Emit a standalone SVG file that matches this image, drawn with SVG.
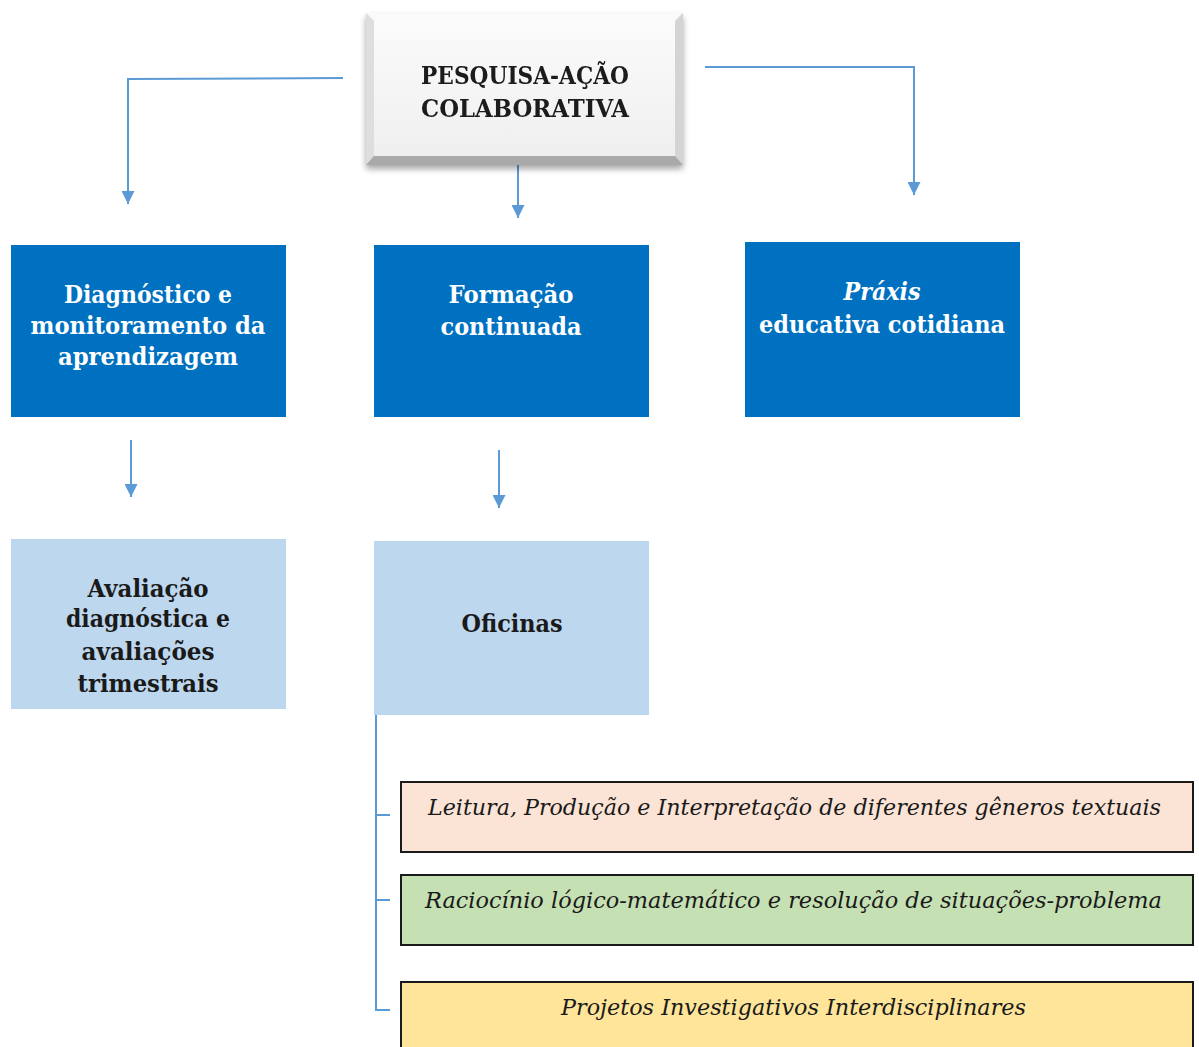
<svg xmlns="http://www.w3.org/2000/svg" width="1199" height="1047" viewBox="0 0 1199 1047">
<defs>
  <style>
    .conn{fill:none;stroke:#5B9BD5;stroke-width:2}
    .t{font-family:"DejaVu Serif","Liberation Serif",serif;font-weight:bold;font-size:24px;text-anchor:middle}
    .w{fill:#ffffff}
    .k{fill:#1a1a1a}
    .it{font-family:"DejaVu Serif","Liberation Serif",serif;font-style:italic;font-size:22px;fill:#1a1a1a}
    .dark{fill:#0070C0}
    .light{fill:#BDD7EE}
    .opt{stroke:#1a1a1a;stroke-width:2}
  </style>
  <marker id="ah" viewBox="0 0 10 10" refX="10" refY="5" markerWidth="13" markerHeight="13" markerUnits="userSpaceOnUse" orient="auto">
    <path d="M0,0 L10,5 L0,10 Z" fill="#5B9BD5"/>
  </marker>
  <linearGradient id="face" x1="0" y1="0" x2="0" y2="1">
    <stop offset="0" stop-color="#fbfbfb"/>
    <stop offset="1" stop-color="#efefef"/>
  </linearGradient>
  <filter id="sh" x="-10%" y="-10%" width="120%" height="130%">
    <feGaussianBlur in="SourceAlpha" stdDeviation="3"/>
    <feOffset dx="0" dy="4"/>
    <feComponentTransfer><feFuncA type="linear" slope="0.35"/></feComponentTransfer>
    <feMerge><feMergeNode/><feMergeNode in="SourceGraphic"/></feMerge>
  </filter>
</defs>
<rect width="1199" height="1047" fill="#ffffff"/>

<g id="connectors">
  <path class="conn" d="M343,78 L128,79 L128,204" marker-end="url(#ah)"/>
  <path class="conn" d="M705,67 L914,67 L914,195" marker-end="url(#ah)"/>
  <path class="conn" d="M518,163 L518,218" marker-end="url(#ah)"/>
  <path class="conn" d="M131,440 L131,497" marker-end="url(#ah)"/>
  <path class="conn" d="M499,450 L499,508" marker-end="url(#ah)"/>
  <path class="conn" d="M376,714 L376,1010 L390,1010 M376,815 L390,815 M376,900 L390,900"/>
</g>

<g id="node-pesquisa" filter="url(#sh)">
  <rect x="366" y="13" width="317" height="152" fill="#e6e6e6"/>
  <polygon points="366,13 683,13 675,21 374,21" fill="#fafafa"/>
  <polygon points="366,13 374,21 374,156 366,165" fill="#dedede"/>
  <polygon points="683,13 683,165 675,156 675,21" fill="#d4d4d4"/>
  <polygon points="366,165 374,156 675,156 683,165" fill="#a9a9a9"/>
  <rect x="374" y="21" width="301" height="135" fill="url(#face)"/>
  <text class="t k" x="525" y="84" textLength="208" lengthAdjust="spacingAndGlyphs">PESQUISA-AÇÃO</text>
  <text class="t k" x="525" y="117" textLength="208" lengthAdjust="spacingAndGlyphs">COLABORATIVA</text>
</g>

<g id="node-diagnostico">
  <rect class="dark" x="11" y="245" width="275" height="172"/>
  <text class="t w" x="148" y="303" textLength="168" lengthAdjust="spacingAndGlyphs">Diagnóstico e</text>
  <text class="t w" x="148" y="334" textLength="235" lengthAdjust="spacingAndGlyphs">monitoramento da</text>
  <text class="t w" x="148" y="365" textLength="180" lengthAdjust="spacingAndGlyphs">aprendizagem</text>
</g>

<g id="node-formacao">
  <rect class="dark" x="374" y="245" width="275" height="172"/>
  <text class="t w" x="511" y="303" textLength="125" lengthAdjust="spacingAndGlyphs">Formação</text>
  <text class="t w" x="511" y="335" textLength="141" lengthAdjust="spacingAndGlyphs">continuada</text>
</g>

<g id="node-praxis">
  <rect class="dark" x="745" y="242" width="275" height="175"/>
  <text class="t w" x="882" y="300" font-style="italic" textLength="77" lengthAdjust="spacingAndGlyphs">Práxis</text>
  <text class="t w" x="882" y="333" textLength="246" lengthAdjust="spacingAndGlyphs">educativa cotidiana</text>
</g>

<g id="node-avaliacao">
  <rect class="light" x="11" y="539" width="275" height="170"/>
  <text class="t k" x="148" y="597" textLength="121" lengthAdjust="spacingAndGlyphs">Avaliação</text>
  <text class="t k" x="148" y="627" textLength="164" lengthAdjust="spacingAndGlyphs">diagnóstica e</text>
  <text class="t k" x="148" y="660" textLength="133" lengthAdjust="spacingAndGlyphs">avaliações</text>
  <text class="t k" x="148" y="692" textLength="141" lengthAdjust="spacingAndGlyphs">trimestrais</text>
</g>

<g id="node-oficinas">
  <rect class="light" x="374" y="541" width="275" height="174"/>
  <text class="t k" x="512" y="632" textLength="101" lengthAdjust="spacingAndGlyphs">Oficinas</text>
</g>

<g id="node-leitura">
  <rect class="opt" x="401" y="782" width="792" height="70" fill="#FBE4D5"/>
  <text class="it" x="428" y="815" textLength="733" lengthAdjust="spacingAndGlyphs">Leitura, Produção e Interpretação de diferentes gêneros textuais</text>
</g>

<g id="node-raciocinio">
  <rect class="opt" x="401" y="875" width="792" height="70" fill="#C5E0B3"/>
  <text class="it" x="425" y="908" textLength="737" lengthAdjust="spacingAndGlyphs">Raciocínio lógico-matemático e resolução de situações-problema</text>
</g>

<g id="node-projetos">
  <rect class="opt" x="401" y="982" width="792" height="80" fill="#FFE599"/>
  <text class="it" x="561" y="1015" textLength="465" lengthAdjust="spacingAndGlyphs">Projetos Investigativos Interdisciplinares</text>
</g>
</svg>
